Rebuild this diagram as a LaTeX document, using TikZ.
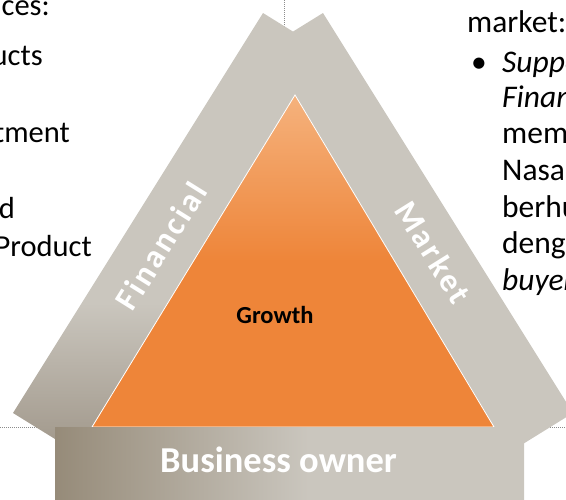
\documentclass[tikz,border=0pt]{standalone}
\usepackage{fontspec}
\setmainfont{Carlito}
\definecolor{armlight}{HTML}{CAC6BE}
\definecolor{armdark}{HTML}{A0978A}
\definecolor{basedark}{HTML}{968B79}
\definecolor{orlight}{HTML}{F5B27D}
\definecolor{ordark}{HTML}{EE8539}
\definecolor{dotgray}{HTML}{8C8C8C}
\pgfdeclareverticalshading{armshade}{100bp}{color(0bp)=(armdark); color(25bp)=(armdark); color(42bp)=(armlight); color(100bp)=(armlight)}
\pgfdeclarehorizontalshading{baseshade}{100bp}{color(0bp)=(basedark); color(25bp)=(basedark); color(52bp)=(armlight); color(100bp)=(armlight)}
\pgfdeclareverticalshading{orshade}{100bp}{color(0bp)=(ordark); color(50bp)=(ordark); color(75bp)=(orlight); color(100bp)=(orlight)}
\tikzset{
  body/.style={inner sep=0pt, font=\fontsize{30.5}{36}\selectfont, text=black},
  rbody/.style={inner sep=0pt, font=\fontsize{31.5}{37}\selectfont, text=black},
  rbodyit/.style={rbody, font=\fontsize{31.5}{37}\selectfont\itshape},
  armlabel/.style={inner sep=0pt, text=white, font=\fontsize{33}{40}\selectfont\bfseries\addfontfeature{LetterSpace=8}},
  dotline/.style={dotgray, line width=1pt, dash pattern=on 1pt off 1pt}
}
\begin{document}
\begin{tikzpicture}[x=1pt,y=-1pt]
\useasboundingbox (0,0) rectangle (566,499);
\clip (0,0) rectangle (566,499);
% dotted guide lines
\draw[dotline] (0,427.5) -- (566,427.5);
\draw[dotline] (284,0) -- (284,60);
% arms
\coordinate (la1) at (263,13);
\coordinate (la2) at (13,413);
\coordinate (la3) at (76,452);
\coordinate (la4) at (326,52);
\coordinate (ra1) at (323,13);
\coordinate (ra2) at (573,413);
\coordinate (ra3) at (510,452);
\coordinate (ra4) at (260,52);
\shade[shading=armshade] (la1) -- (la2) -- (la3) -- (la4) -- cycle;
\fill[armlight] (ra1) -- (ra2) -- (ra3) -- (ra4) -- cycle;
% growth triangle
\coordinate (tA) at (295,95);
\coordinate (tB) at (92,427);
\coordinate (tC) at (494,427);
\shade[shading=orshade, draw=white, line width=0.8pt] (tA) -- (tB) -- (tC) -- cycle;
% base box
\shade[shading=baseshade] (55,427.5) rectangle (524,505);
% labels
\node[armlabel, rotate=58] (fin) at (161,246) {Financial};
\node[armlabel, rotate=-58] (mkt) at (433,252) {Market};
\node[inner sep=0pt, font=\fontsize{24.5}{30}\selectfont\bfseries, anchor=base] (gro) at (275,323) {Growth};
\node[inner sep=0pt, font=\fontsize{36.5}{44}\selectfont\bfseries, text=white, anchor=base] (bo) at (278.5,472) {Business owner};
% left text
\node[body, anchor=base east] (l1) at (50,15) {ces:};
\node[body, anchor=base east] (l2) at (43,65) {ucts};
\node[body, anchor=base east] (l3) at (70,142) {tment};
\node[body, anchor=base east] (l4) at (15,218) {d};
\node[body, anchor=base east] (l5) at (92,256) {Product};
% right text
\node[rbody, anchor=base west] (r0) at (467,32) {market:};
\node[rbody, anchor=base west] (rb) at (471,72) {•};
\node[rbodyit, anchor=base west] (r1) at (502,72) {Supporting};
\node[rbodyit, anchor=base west] (r2) at (502,107) {Financial};
\node[rbody, anchor=base west] (r3) at (502,143) {membantu};
\node[rbody, anchor=base west] (r4) at (502,180) {Nasabah};
\node[rbody, anchor=base west] (r5) at (502,217) {berhubungan};
\node[rbody, anchor=base west] (r6) at (502,253) {dengan};
\node[rbodyit, anchor=base west] (r7) at (502,290) {buyer};
\end{tikzpicture}
\end{document}
